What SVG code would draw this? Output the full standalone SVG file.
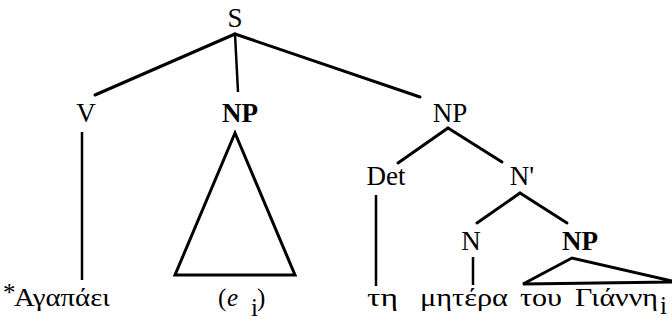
<svg xmlns="http://www.w3.org/2000/svg" width="672" height="326" viewBox="0 0 672 326">
<style>
.lbl{font-family:"Liberation Serif","Times New Roman",serif;font-size:27px;fill:#000;text-anchor:middle}
.b{font-weight:bold}
.gr{font-family:"Liberation Serif","Times New Roman",serif;font-size:25px;fill:#000}
.e{stroke:#000;stroke-width:3;fill:none;stroke-linecap:round;stroke-linejoin:miter}
.v{stroke:#000;stroke-width:2.5;fill:none}
</style>
<rect width="672" height="326" fill="#fff"/>
<g id="connectors">
<line class="e" x1="235" y1="34" x2="95" y2="95"/>
<line class="v" x1="235" y1="34" x2="238" y2="92"/>
<line class="e" x1="235" y1="34" x2="420" y2="97"/>
<line class="v" x1="82" y1="132" x2="82" y2="280"/>
<polygon class="e" points="235,133 175,275 295,275"/>
<line class="e" x1="448" y1="128" x2="398" y2="163"/>
<line class="e" x1="448" y1="128" x2="502" y2="162"/>
<line class="v" x1="376" y1="195" x2="376" y2="286"/>
<line class="e" x1="520" y1="193" x2="477" y2="223"/>
<line class="e" x1="520" y1="193" x2="567" y2="223"/>
<line class="v" x1="473" y1="257" x2="473" y2="285"/>
<polyline class="e" points="672,281 572,258 523,284 672,282"/>
</g>
<g id="S"><text class="lbl" x="235" y="27">S</text></g>
<g id="V"><text class="lbl" x="86" y="122">V</text></g>
<g id="NP1"><text class="lbl b" x="240" y="122">NP</text></g>
<g id="NP2"><text class="lbl" x="450" y="122">NP</text></g>
<g id="Det"><text class="lbl" x="386" y="185">Det</text></g>
<g id="Nbar"><text class="lbl" x="522" y="185">N'</text></g>
<g id="N"><text class="lbl" x="471" y="250">N</text></g>
<g id="NP3"><text class="lbl b" x="580" y="250">NP</text></g>
<g id="w1"><text class="gr" x="3" y="301" font-size="15">*</text><text class="gr" x="14" y="306" textLength="96" lengthAdjust="spacingAndGlyphs">Αγαπάει</text></g>
<g id="w2"><text class="gr" x="218" y="306">(</text><text class="gr" x="227" y="306" font-style="italic">e</text><text class="gr" x="251" y="316" font-size="17">i</text><text class="gr" x="257" y="306">)</text></g>
<g id="w3"><text class="gr" x="367" y="306" textLength="31" lengthAdjust="spacingAndGlyphs">τη</text></g>
<g id="w4"><text class="gr" x="420" y="306" textLength="88" lengthAdjust="spacingAndGlyphs">μητέρα</text></g>
<g id="w5"><text class="gr" x="520" y="306" textLength="42" lengthAdjust="spacingAndGlyphs">του</text></g>
<g id="w6"><text class="gr" x="575" y="306" textLength="83" lengthAdjust="spacingAndGlyphs">Γιάννη</text><text class="gr" x="660" y="314" font-size="17">i</text></g>
</svg>
